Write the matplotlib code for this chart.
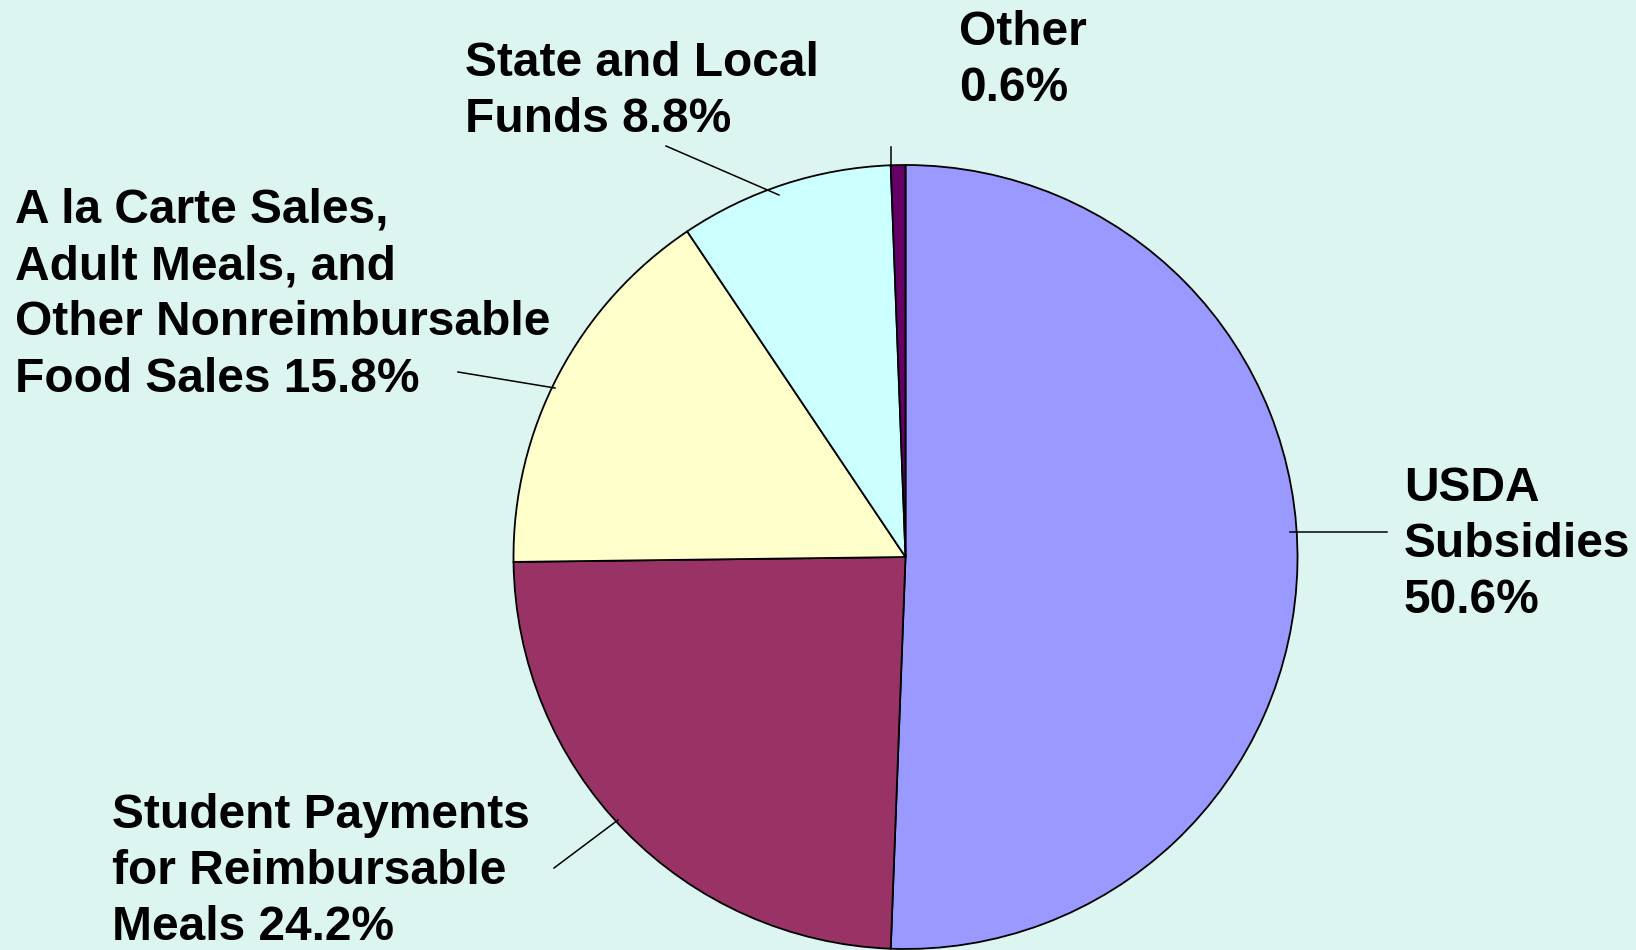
import matplotlib.pyplot as plt

# Revenue sources, clockwise from 12 o'clock
sources = ["USDA Subsidies", "Student Payments for Reimbursable Meals",
           "A la Carte Sales, Adult Meals, and Other Nonreimbursable Food Sales",
           "State and Local Funds", "Other"]
shares = [50.6, 24.2, 15.8, 8.8, 0.6]
colors = ["#9999FF", "#993366", "#FFFFCC", "#CCFFFF", "#660066"]

label_texts = [
    "USDA\nSubsidies\n{:.1f}%",
    "Student Payments\nfor Reimbursable\nMeals {:.1f}%",
    "A la Carte Sales,\nAdult Meals, and\nOther Nonreimbursable\nFood Sales {:.1f}%",
    "State and Local\nFunds {:.1f}%",
    "Other\n{:.1f}%",
]

W, H = 1636, 950
BG = "#DDF5F0"

plt.rcParams['font.family'] = ['Liberation Sans', 'DejaVu Sans']

fig = plt.figure(figsize=(W / 100, H / 100), dpi=100, facecolor=BG)
ax = fig.add_axes([0, 0, 1, 1])
ax.set_facecolor(BG)


def py(y):
    # image-style y (top = 0) to axes y
    return H - y


ax.pie(shares, colors=colors, startangle=90, counterclock=False,
       center=(905.5, py(557)), radius=392, frame=False,
       wedgeprops=dict(edgecolor="black", linewidth=1.3))

# label anchor (left x, first-line top) and leader line ends
label_pos = [(1404, 466), (112, 793), (15, 188), (465, 41), (959, 10)]
leaders = [((1290, 532), (1387, 532)),
           ((618, 820), (554, 868)),
           ((555, 388), (458, 372)),
           ((779, 195), (666, 146)),
           ((891, 164), (891, 147))]

for txt, val, (lx, ly), (p0, p1) in zip(label_texts, shares, label_pos, leaders):
    ax.text(lx, py(ly), txt.format(val), ha="left", va="top",
            fontsize=34.5, fontweight="bold", linespacing=1.32, color="black")
    ax.plot([p0[0], p1[0]], [py(p0[1]), py(p1[1])], color="black", lw=1.1)

ax.set_xlim(0, W)
ax.set_ylim(0, H)
ax.set_aspect("equal")
ax.axis("off")

fig.savefig("out.png", dpi=100, facecolor=BG)
